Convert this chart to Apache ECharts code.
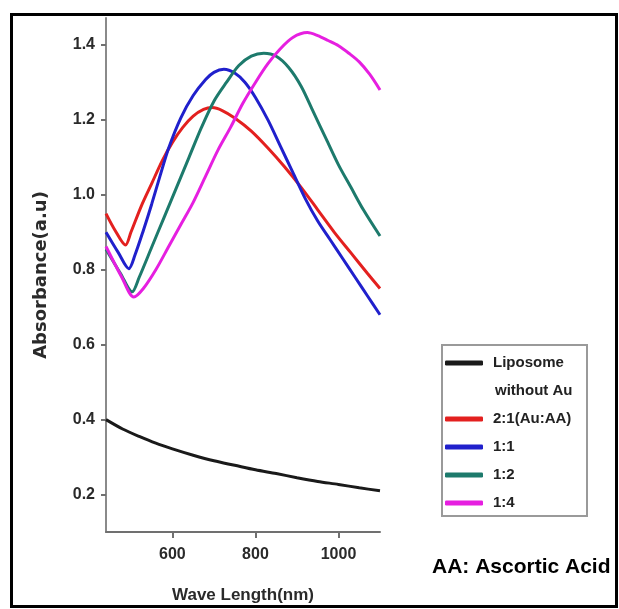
<!DOCTYPE html>
<html>
<head>
<meta charset="utf-8">
<script src="https://cdn.jsdelivr.net/npm/echarts@6/dist/echarts.min.js"></script>
<style>
  html, body { margin: 0; padding: 0; background: #fff; }
  #chart { width: 619px; height: 609px; }
</style>
</head>
<body>
<div id="chart"></div>
<script>
  // wavelength (nm), absorbance (a.u)
  const liposome = [[440, 0.40], [480, 0.375], [520, 0.355], [560, 0.337], [600, 0.322], [650, 0.305], [700, 0.29], [750, 0.278], [800, 0.266], [850, 0.256], [900, 0.245], [950, 0.235], [1000, 0.227], [1050, 0.218], [1100, 0.21]]
  const ratio21 = [[440, 0.95], [462, 0.905], [487, 0.866], [500, 0.9], [525, 0.97], [550, 1.03], [575, 1.09], [600, 1.14], [625, 1.18], [650, 1.21], [675, 1.228], [696, 1.233], [720, 1.225], [750, 1.205], [790, 1.17], [830, 1.125], [870, 1.075], [910, 1.02], [950, 0.96], [990, 0.9], [1030, 0.845], [1070, 0.79], [1100, 0.75]]
  const ratio11 = [[440, 0.9], [470, 0.845], [495, 0.803], [510, 0.84], [530, 0.905], [550, 0.975], [570, 1.05], [591, 1.125], [620, 1.205], [650, 1.265], [680, 1.308], [700, 1.327], [724, 1.335], [750, 1.325], [775, 1.3], [800, 1.26], [830, 1.2], [860, 1.13], [890, 1.06], [920, 0.99], [950, 0.93], [980, 0.88], [1010, 0.83], [1040, 0.78], [1070, 0.73], [1100, 0.68]]
  const ratio12 = [[440, 0.855], [475, 0.79], [503, 0.741], [520, 0.78], [550, 0.86], [580, 0.94], [610, 1.02], [640, 1.1], [670, 1.18], [700, 1.25], [730, 1.3], [760, 1.345], [790, 1.37], [820, 1.378], [850, 1.37], [880, 1.34], [910, 1.29], [940, 1.22], [970, 1.15], [1000, 1.08], [1030, 1.02], [1060, 0.96], [1100, 0.89]]
  const ratio14 = [[440, 0.862], [478, 0.78], [507, 0.727], [530, 0.75], [560, 0.8], [590, 0.86], [620, 0.92], [650, 0.98], [680, 1.05], [710, 1.12], [740, 1.18], [770, 1.245], [800, 1.3], [830, 1.35], [860, 1.39], [890, 1.42], [925, 1.433], [950, 1.425], [975, 1.412], [1000, 1.398], [1025, 1.378], [1050, 1.355], [1075, 1.322], [1100, 1.28]]

  const seriesNames = ['Liposome', '2:1(Au:AA)', '1:1', '1:2', '1:4']
  const seriesColors = ['#1a1a1a', '#e3201f', '#2020cc', '#1d7a6c', '#e61fe0']
  const seriesData = [liposome, ratio21, ratio11, ratio12, ratio14]
  const xTicks = [600, 800, 1000]
  const yTicks = [0.2, 0.4, 0.6, 0.8, 1.0, 1.2, 1.4]

  const chart = echarts.init(document.getElementById('chart'))

  const axisFont = {
    color: '#2a2a2a',
    fontFamily: 'Liberation Sans, Arial, sans-serif',
    fontWeight: 'bold',
    fontSize: 15
  }

  const legendText = {
    color: '#222',
    fontFamily: 'Liberation Sans, Arial, sans-serif',
    fontWeight: 'bold',
    fontSize: 15,
    lineHeight: 16,
    padding: [0, 0, 0, 5]
  }

  const option = {
    backgroundColor: '#fff',
    animation: false,
    grid: {
      left: 106,
      right: 239,
      top: 18,
      bottom: 77
    },
    legend: [
      {
        orient: 'vertical',
        left: 445,
        top: 355,
        padding: 0,
        itemWidth: 38,
        itemHeight: 5,
        icon: 'roundRect',
        data: seriesNames.slice(0, 1),
        textStyle: legendText
      },
      {
        orient: 'vertical',
        left: 445,
        top: 411,
        padding: 0,
        itemGap: 12,
        itemWidth: 38,
        itemHeight: 5,
        icon: 'roundRect',
        data: seriesNames.slice(1),
        textStyle: legendText
      }
    ],
    graphic: [
      {
        type: 'rect',
        shape: { x: 11.5, y: 14.5, width: 605, height: 592 },
        style: { fill: 'none', stroke: '#000', lineWidth: 3 },
        silent: true
      },
      {
        type: 'rect',
        shape: { x: 442, y: 345, width: 145, height: 171 },
        style: { fill: 'none', stroke: '#9a9a9a', lineWidth: 2 },
        silent: true
      },
      {
        type: 'text',
        left: 495,
        top: 383,
        style: {
          text: 'without Au',
          fill: '#222',
          font: 'bold 15px "Liberation Sans", Arial, sans-serif'
        }
      },
      {
        type: 'text',
        left: 432,
        top: 557,
        style: {
          text: 'AA: Ascortic Acid',
          fill: '#000',
          font: '900 21px "Liberation Sans", Arial, sans-serif'
        }
      }
    ],
    xAxis: {
      type: 'value',
      min: 440,
      max: 1100,
      name: 'Wave Length(nm)',
      nameLocation: 'middle',
      nameGap: 55,
      nameTextStyle: { ...axisFont, fontSize: 17 },
      axisLine: { lineStyle: { color: '#707070', width: 2 } },
      axisTick: { customValues: xTicks, length: 6, lineStyle: { color: '#707070', width: 2 } },
      axisLabel: { ...axisFont, fontSize: 16, customValues: xTicks, margin: 15, formatter: (val) => String(val) },
      splitLine: { show: false }
    },
    yAxis: {
      type: 'value',
      min: 0.1,
      max: 1.472,
      name: 'Absorbance(a.u)',
      nameLocation: 'middle',
      nameGap: 56,
      nameTextStyle: {
        color: '#2a2a2a',
        fontFamily: 'DejaVu Sans, sans-serif',
        fontWeight: 'bold',
        fontSize: 18
      },
      axisLine: { show: true, lineStyle: { color: '#8a8a8a', width: 2 } },
      axisTick: { show: true, customValues: yTicks, length: 5, lineStyle: { color: '#707070', width: 2 } },
      axisLabel: {
        ...axisFont,
        fontSize: 16,
        customValues: yTicks,
        margin: 11,
        formatter: (val) => val.toFixed(1)
      },
      splitLine: { show: false }
    },
    series: seriesNames.map((name, i) => ({
      name,
      type: 'line',
      smooth: 0.3,
      showSymbol: false,
      lineStyle: { width: 3, color: seriesColors[i] },
      itemStyle: { color: seriesColors[i] },
      data: seriesData[i]
    }))
  }

  chart.setOption(option)
</script>
</body>
</html>
